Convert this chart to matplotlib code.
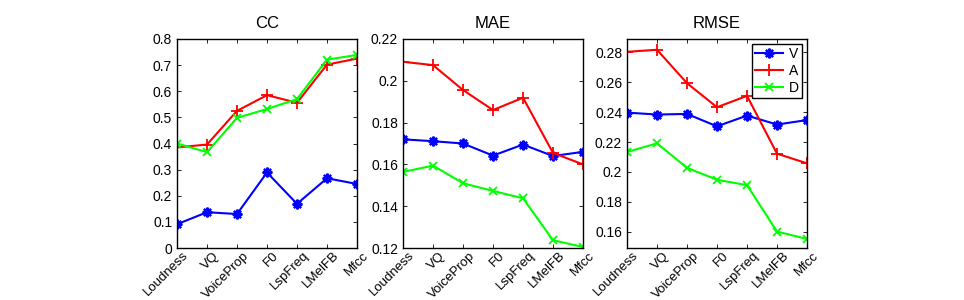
import matplotlib
matplotlib.use("Agg")
import matplotlib.pyplot as plt
from matplotlib.transforms import ScaledTranslation, blended_transform_factory

plt.rcParams['font.family'] = ['Liberation Sans', 'DejaVu Sans']

features = ["Loudness", "VQ", "VoiceProp", "F0", "LspFreq", "LMelFB", "Mfcc"]

cc_V = [0.091, 0.137, 0.130, 0.289, 0.169, 0.267, 0.245]
cc_A = [0.385, 0.396, 0.525, 0.585, 0.556, 0.702, 0.725]
cc_D = [0.400, 0.367, 0.498, 0.532, 0.570, 0.721, 0.739]

mae_V = [0.172, 0.1711, 0.170, 0.1642, 0.1695, 0.164, 0.166]
mae_A = [0.2091, 0.2075, 0.1956, 0.186, 0.1919, 0.1655, 0.160]
mae_D = [0.1564, 0.1594, 0.151, 0.1473, 0.1438, 0.1237, 0.1205]

rmse_V = [0.2397, 0.2384, 0.2388, 0.2305, 0.2377, 0.2317, 0.2347]
rmse_A = [0.2804, 0.2818, 0.2594, 0.2433, 0.2509, 0.2122, 0.2057]
rmse_D = [0.2133, 0.2191, 0.2027, 0.1947, 0.1911, 0.1600, 0.1551]

titles = ["CC", "MAE", "RMSE"]
data = [(cc_V, cc_A, cc_D), (mae_V, mae_A, mae_D), (rmse_V, rmse_A, rmse_D)]
ylims = [(0, 0.8), (0.12, 0.22), (0.149, 0.289)]
yticks = [[0, 0.1, 0.2, 0.3, 0.4, 0.5, 0.6, 0.7, 0.8],
          [0.12, 0.14, 0.16, 0.18, 0.2, 0.22],
          [0.16, 0.18, 0.2, 0.22, 0.24, 0.26, 0.28]]
ytick_labels = [["0", "0.1", "0.2", "0.3", "0.4", "0.5", "0.6", "0.7", "0.8"],
                ["0.12", "0.14", "0.16", "0.18", "0.2", "0.22"],
                ["0.16", "0.18", "0.2", "0.22", "0.24", "0.26", "0.28"]]

fig = plt.figure(figsize=(9.64, 3.0), dpi=100)
lefts = [177/964, 403/964, 627/964]
width = 180/964
bottom = 52/300
height = 209/300

x = list(range(len(features)))
offset = ScaledTranslation(0.055, -0.015, fig.dpi_scale_trans)
for i in range(3):
    ax = fig.add_axes([lefts[i], bottom, width, height])
    V, A, D = data[i]
    ax.plot(x, V, color='#0000ff', marker=(8, 2, 0), markersize=7, mew=1.6, lw=1.5, label='V')
    ax.plot(x, A, color='#ff0000', marker='+', markersize=8, mew=1.3, lw=1.5, label='A')
    ax.plot(x, D, color='#00ff00', marker='x', markersize=6, mew=1.3, lw=1.5, label='D')
    ax.set_xlim(0, len(features) - 1)
    ax.set_ylim(*ylims[i])
    ax.set_yticks(yticks[i])
    ax.set_yticklabels(ytick_labels[i])
    ax.set_xticks(x)
    ax.set_xticklabels([])
    trans = blended_transform_factory(ax.transData, ax.transAxes) + offset
    for xi, name in zip(x, features):
        ax.text(xi, 0, name, transform=trans, rotation=45, ha='right', va='top',
                rotation_mode='anchor', fontsize=9.5, clip_on=False)
    ax.tick_params(direction='in', top=True, right=True, length=3, width=0.6)
    ax.tick_params(axis='y', labelsize=10)
    for s in ax.spines.values():
        s.set_linewidth(1.0)
    ax.set_title(titles[i], fontsize=12, pad=8)
    if i == 2:
        leg = ax.legend(loc='upper right', fontsize=10, fancybox=False, framealpha=1,
                        edgecolor='black', borderpad=0.25, handlelength=2.0,
                        handletextpad=0.4, labelspacing=0.2, borderaxespad=0.35)
        leg.get_frame().set_linewidth(1.0)

fig.savefig("out.png", dpi=100)
